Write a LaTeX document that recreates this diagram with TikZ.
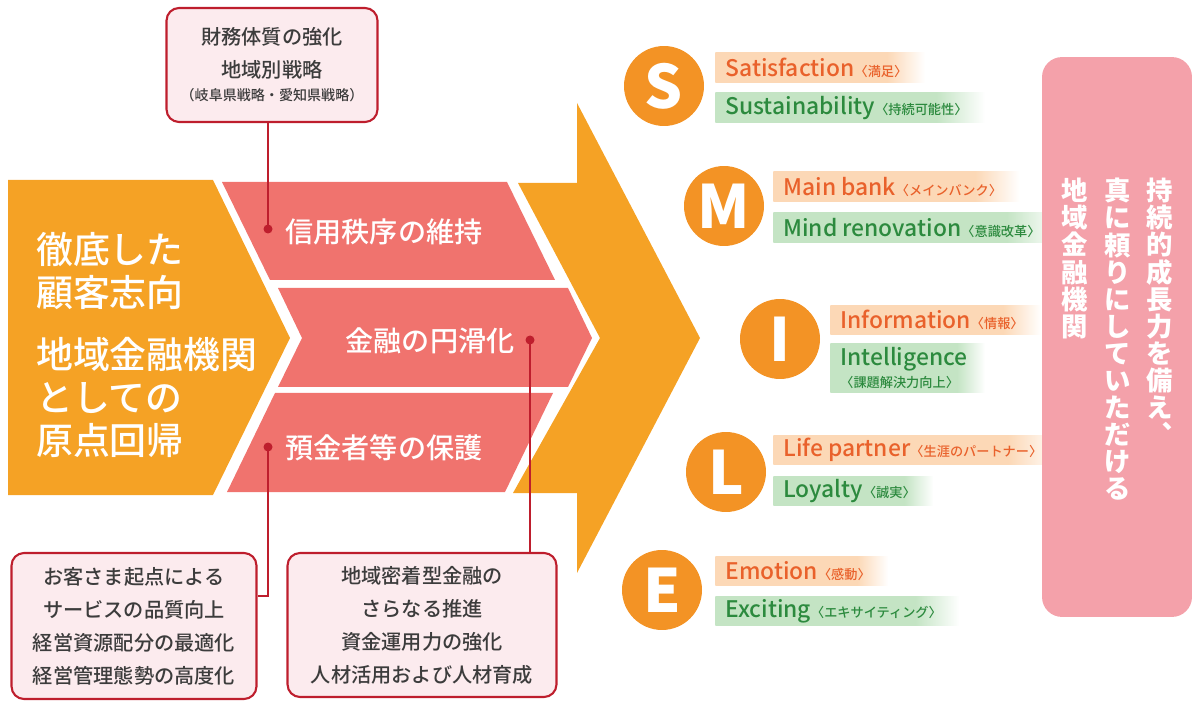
\documentclass[tikz,border=0pt]{standalone}
\usepackage{fontspec}
\setmainfont{Noto Sans CJK JP}
\newfontfamily\jpmedium{Noto Sans CJK JP Medium}
\usetikzlibrary{positioning,calc}

\definecolor{arroworange}{HTML}{F5A225}
\definecolor{bandred}{HTML}{F0736E}
\definecolor{linkred}{HTML}{BE1E2D}
\definecolor{notepink}{HTML}{FCEBEE}
\definecolor{smileorange}{HTML}{F39325}
\definecolor{barorange}{HTML}{FCD8B6}
\definecolor{bargreen}{HTML}{C4E4C4}
\definecolor{wordorange}{HTML}{E9612B}
\definecolor{wordgreen}{HTML}{2C8A3E}
\definecolor{goalpink}{HTML}{F4A1AA}
\definecolor{notegray}{HTML}{3C3C3C}

\pgfdeclarehorizontalshading{orangebar}{100bp}{color(0bp)=(barorange); color(25bp)=(barorange); color(66bp)=(barorange); color(75bp)=(white); color(100bp)=(white)}
\pgfdeclarehorizontalshading{greenbar}{100bp}{color(0bp)=(bargreen); color(25bp)=(bargreen); color(66bp)=(bargreen); color(75bp)=(white); color(100bp)=(white)}

\newcommand{\smilenote}[1]{{\fontsize{7.5}{9}\selectfont #1}}

\begin{document}
\begin{tikzpicture}[x=0.02cm, y=-0.02cm,
    band/.style={fill=bandred},
    bandtext/.style={text=white, font=\jpmedium\fontsize{16}{18}\selectfont},
    note/.style={draw=linkred, fill=notepink, line width=1.2pt, rounded corners=2.5mm,
      align=center, text=notegray, font=\jpmedium\fontsize{11.5}{18.8}\selectfont},
    link/.style={draw=linkred, line width=1.2pt},
    linkdot/.style={circle, fill=linkred, inner sep=0pt, minimum size=0.18cm},
    letter/.style={circle, fill=smileorange, text=white, inner sep=0pt, minimum size=1.6cm,
      font=\bfseries\fontsize{34}{34}\selectfont},
    smilebar/.style={anchor=west, shade, minimum height=0.6cm, inner xsep=0.2cm, inner ysep=0pt,
      font=\jpmedium\fontsize{13}{15}\selectfont, execute at end node={\hspace*{0.15cm}}},
    obar/.style={smilebar, shading=orangebar, text=wordorange},
    gbar/.style={smilebar, shading=greenbar, text=wordgreen},
    column/.style={anchor=north, align=center, inner sep=0pt, text=white,
      font=\bfseries\fontsize{15}{15.4}\selectfont}
  ]
  \useasboundingbox (0,0) rectangle (1197,702);
  % big orange arrows
  \fill[arroworange] (8,180) -- (213,180) -- (290,338) -- (213,495) -- (8,495) -- cycle;
  \fill[arroworange] (577,103) -- (700,338) -- (577,573) -- (577,493) -- (513,493)
    -- (600,338) -- (518,183) -- (577,183) -- cycle;
  % three bands
  \fill[band] (222,182) -- (507,182) -- (555,280) -- (270,280) -- cycle;
  \fill[band] (278,288) -- (568,288) -- (592,338) -- (568,387) -- (278,387) -- (302,338) -- cycle;
  \fill[band] (275,393) -- (553,393) -- (505,492) -- (227,492) -- cycle;

  \node[anchor=west, align=left, text=white, font=\jpmedium\fontsize{21}{24.5}\selectfont] (origin) at (30,345)
    {徹底した\\顧客志向\\[0.38cm]地域金融機関\\としての\\原点回帰};
  \node[bandtext] (credit) at (384,232) {信用秩序の維持};
  \node[bandtext] (finance) at (430,341) {金融の円滑化};
  \node[bandtext] (deposit) at (384,448) {預金者等の保護};
  \node[linkdot] (dot1) at (268,229) {};
  \node[linkdot] (dot2) at (530,340) {};
  \node[linkdot] (dot3) at (268,447) {};

  % notes
  \node[note, minimum width=4.22cm, minimum height=2.28cm] (topnote) at (272,65)
    {財務体質の強化\\地域別戦略\\[-5.8pt]{\fontsize{8}{10}\selectfont （岐阜県戦略・愛知県戦略）}};
  \node[note, minimum width=4.9cm, minimum height=2.92cm] (leftnote) at (134,626)
    {お客さま起点による\\サービスの品質向上\\経営資源配分の最適化\\経営管理態勢の高度化};
  \node[note, minimum width=5.38cm, minimum height=2.88cm] (midnote) at (422,625)
    {地域密着型金融の\\さらなる推進\\資金運用力の強化\\人材活用および人材育成};
  \draw[link] (dot1.center) -- (dot1 |- topnote.south);
  \draw[link] (dot2.center) -- (dot2 |- midnote.north);
  \draw[link] (dot3.center) |- ($(leftnote.north east)!0.3!(leftnote.south east)$);

  % SMILE
  \node[letter] (S) at (664,86) {S};
  \node[letter] (M) at (724,206) {M};
  \node[letter] (I) at (780,339) {I};
  \node[letter] (L) at (726,472) {L};
  \node[letter] (E) at (662,590) {E};
  \node[obar] (sat) at (715,68) {Satisfaction\smilenote{〈満足〉}};
  \node[gbar] (sus) at (715,108) {Sustainability\smilenote{〈持続可能性〉}};
  \node[obar] (mainbank) at (773,187) {Main bank\smilenote{〈メインバンク〉}};
  \node[gbar] (mind) at (773,228) {Mind renovation\smilenote{〈意識改革〉}};
  \node[obar] (info) at (830,320) {Information\smilenote{〈情報〉}};
  \node[gbar, align=left, minimum height=1cm] (intel) at (830,368)
    {Intelligence\\[-3pt]\smilenote{〈課題解決力向上〉}};
  \node[obar] (life) at (773,450) {Life partner\smilenote{〈生涯のパートナー〉}};
  \node[gbar] (loyal) at (773,491) {Loyalty\smilenote{〈誠実〉}};
  \node[obar] (emo) at (715,571) {Emotion\smilenote{〈感動〉}};
  \node[gbar] (exc) at (715,611) {Exciting\smilenote{〈エキサイティング〉}};

  % goal
  \node[fill=goalpink, rounded corners=4mm, minimum width=3cm, minimum height=11.2cm,
    inner sep=0pt] (goal) at (1117,337) {};
  \node[column] (goal1) at (1160,178) {持\\続\\的\\成\\長\\力\\を\\備\\え\\︑};
  \node[column] (goal2) at (1118,178) {真\\に\\頼\\り\\に\\し\\て\\い\\た\\だ\\け\\る};
  \node[column] (goal3) at (1075,178) {地\\域\\金\\融\\機\\関};
\end{tikzpicture}
\end{document}
